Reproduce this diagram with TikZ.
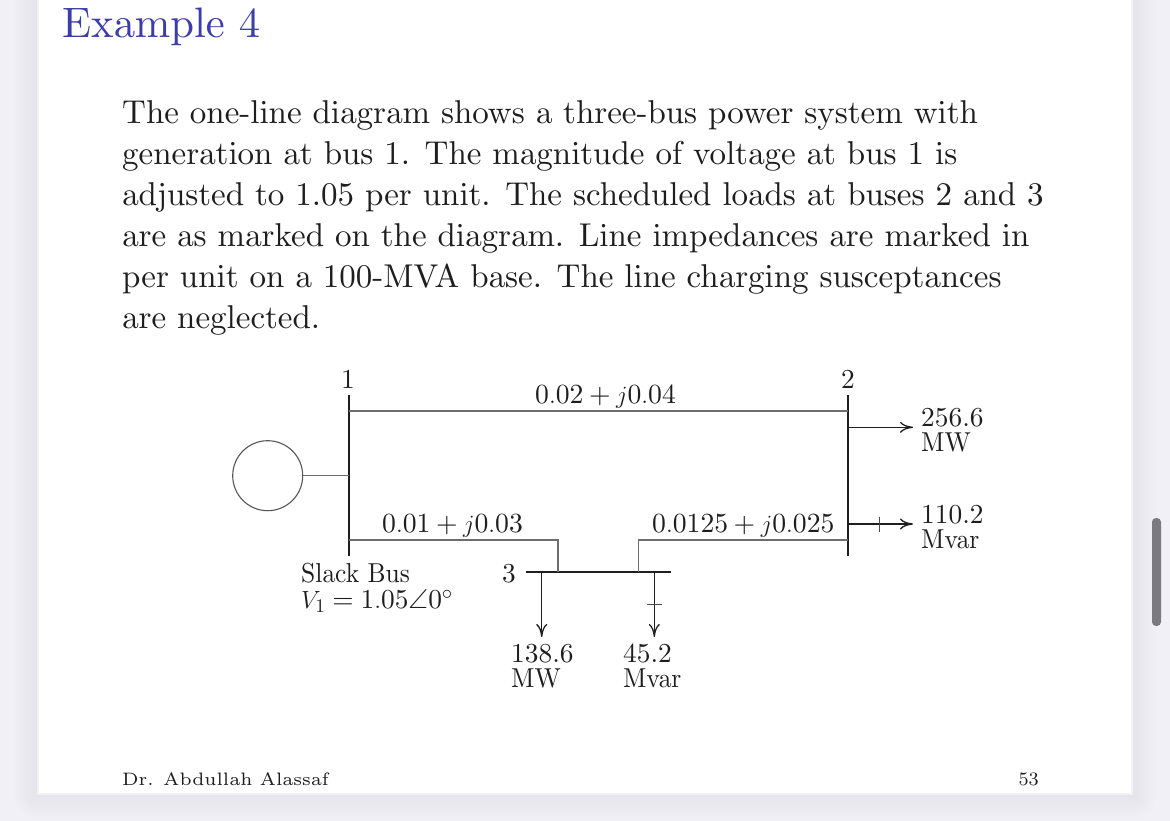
\documentclass[tikz,border=0pt]{standalone}
\usepackage{amsmath}
\usepackage{amssymb}
\usepackage{tikz}
\usetikzlibrary{arrows.meta}
\renewcommand{\encodingdefault}{OT1}
\DeclareFontFamily{OT1}{cmrTen}{}
\DeclareFontShape{OT1}{cmrTen}{m}{n}{<-> cmr10}{}
\renewcommand{\rmdefault}{cmrTen}
\DeclareSymbolFont{operators}{OT1}{cmrTen}{m}{n}
\font\footerFont=cmr6 at 18pt
\font\pageFont=cmr8 at 19pt
\definecolor{titleColor}{RGB}{60,60,170}
\definecolor{inkColor}{RGB}{30,30,30}
\definecolor{deskColor}{RGB}{240,240,246}
\definecolor{thumbColor}{RGB}{122,122,128}
\tikzstyle{slide} = [x = 1pt, y = -1pt, every node/.style={inner sep=0pt, text=inkColor}]
\tikzstyle{busLine} = [color=inkColor, line width=2pt]
\tikzstyle{feederLine} = [color=inkColor!65, line width=1.4pt]
\tikzstyle{loadLine} = [color=inkColor, line width=1.3pt, -{Computer Modern Rightarrow[length=13pt,width=11pt]}]
\tikzstyle{tickLine} = [color=inkColor!80, line width=1.1pt]
\tikzstyle{diagramText} = [font=\fontsize{27.4}{25}\selectfont, align=left]
\tikzstyle{bodyText} = [font=\fontsize{33}{41}\selectfont, align=left]
\newcommand{\wordText}[1]{\scalebox{.93}[1]{#1}}
\newcommand{\busNumber}[4]{\node [diagramText, anchor=base] (#1) at (#2,#3) {#4};}
\newcommand{\lineLabel}[4]{\node [diagramText, font=\fontsize{27.7}{25}\selectfont, anchor=base west] (#1) at (#2,#3) {$#4$};}
\newcommand{\loadLabel}[5]{\node [diagramText, anchor=north west] (#1) at (#2,#3) {#4\\\wordText{#5}};}
\begin{document}
\begin{tikzpicture}[slide]
  \useasboundingbox (0,0) rectangle (1170,821);
  % screen behind the slide
  \fill [deskColor] (0,0) rectangle (1170,821);
  \foreach \grow in {2,4,...,24} {
    \fill [black, opacity=.005, rounded corners=\grow pt] (37-\grow,-30) rectangle (1133+\grow,795+\grow);
  }
  \filldraw [color=black!5, fill=white, line width=2pt] (38,-5) rectangle (1132,794);
  \fill [thumbColor] (1152,518) [rounded corners=4pt] rectangle (1161,626);

  \node [font=\fontsize{42.6}{43}\selectfont, text=titleColor, anchor=base west] (title) at (62,38) {Example 4};
  \node [bodyText, anchor=north west] (problemText) at (122,100) {The one-line diagram shows a three-bus power system with\\
    generation at bus 1.  The magnitude of voltage at bus 1 is\\
    adjusted to 1.05 per unit.  The scheduled loads at buses 2 and 3\\
    are as marked on the diagram.  Line impedances are marked in\\
    per unit on a 100-MVA base.  The line charging susceptances\\
    are neglected.};

  % buses
  \coordinate (busOneTop) at (348.5,395);
  \coordinate (busOneBottom) at (348.5,556);
  \coordinate (busTwoTop) at (848,395);
  \coordinate (busTwoBottom) at (848,556);
  \coordinate (busThreeLeft) at (526,572);
  \coordinate (busThreeRight) at (671,572);
  \draw [busLine] (busOneTop) -- (busOneBottom);
  \draw [busLine] (busTwoTop) -- (busTwoBottom);
  \draw [busLine] (busThreeLeft) -- (busThreeRight);
  \busNumber{numberOne}{348}{388}{1}
  \busNumber{numberTwo}{848}{388}{2}
  \busNumber{numberThree}{509}{582}{3}

  % generator
  \node [circle, draw=inkColor!75, line width=1.1pt, minimum size=70pt] (generator) at (267.7,475.7) {};
  \draw [feederLine] (generator.east) -- (generator.east -| busOneTop);

  % lines
  \coordinate (tapThreeA) at (558,572);
  \coordinate (tapThreeB) at (638.5,572);
  \draw [feederLine] (348.5,411) coordinate (tapOneA) -- (tapOneA -| busTwoTop);
  \draw [feederLine] (348.5,540) coordinate (tapOneB) -- (tapOneB -| tapThreeA) -- (tapThreeA);
  \draw [feederLine] (tapThreeB) -- (tapThreeB |- tapOneB) -- (tapOneB -| busTwoTop);
  \lineLabel{lineOneTwo}{535}{403}{0.02 + j0.04}
  \lineLabel{lineOneThree}{382}{532}{0.01 + j0.03}
  \lineLabel{lineTwoThree}{652}{532}{0.0125 + j0.025}

  \node [diagramText, anchor=north west] (slackText) at (301,563) {\wordText{Slack Bus}\\[1.5pt]$V_1 = 1.05\angle 0^\circ$};

  % loads
  \loadLabel{loadTwoP}{921}{409}{256.6}{MW}
  \loadLabel{loadTwoQ}{921}{506}{110.2}{Mvar}
  \loadLabel{loadThreeP}{511}{645}{138.6}{MW}
  \loadLabel{loadThreeQ}{623}{645}{45.2}{Mvar}
  \coordinate (tipTwoP) at (913,427.3);
  \coordinate (tipTwoQ) at (913,524);
  \coordinate (tipThreeP) at (541.7,637);
  \coordinate (tipThreeQ) at (654.3,637);
  \draw [loadLine] (tipTwoP -| busTwoTop) -- (tipTwoP);
  \draw [loadLine] (tipTwoQ -| busTwoTop) -- (tipTwoQ);
  \draw [loadLine] (tipThreeP |- busThreeLeft) -- (tipThreeP);
  \draw [loadLine] (tipThreeQ |- busThreeLeft) -- (tipThreeQ);
  \draw [tickLine] (879.3,516.7) -- (879.3,532.3);
  \draw [tickLine] (646.7,604.7) -- (662.3,604.7);

  \node [font=\footerFont, anchor=base west] (footerName) at (122,785) {Dr.  Abdullah Alassaf};
  \node [font=\pageFont, anchor=base east] (footerPage) at (1039,785) {53};
\end{tikzpicture}
\end{document}
